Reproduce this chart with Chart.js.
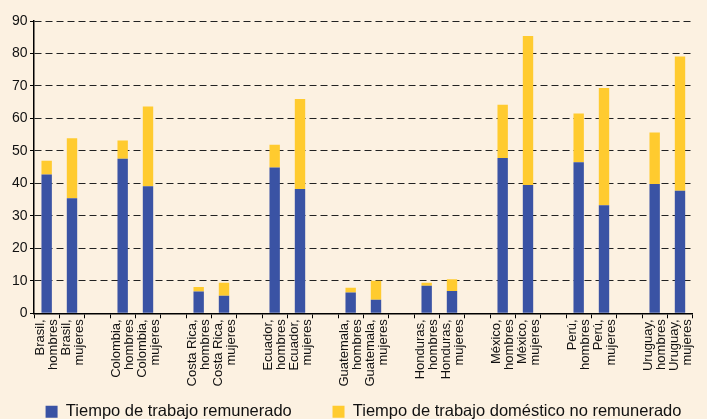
<!DOCTYPE html>
<html>
<head>
<meta charset="utf-8">
<script src="https://cdn.jsdelivr.net/npm/chart.js@4/dist/chart.umd.min.js"></script>
<style>
  html, body { margin: 0; padding: 0; background: #fcf1e1; }
  #wrap { width: 707px; height: 419px; }
</style>
</head>
<body>
<div id="wrap"><canvas id="chart" width="707" height="419"></canvas></div>
<script>
// categories (empty strings are the gaps between countries)
const labels = [
  ['Brasil,', 'hombres'], ['Brasil,', 'mujeres'], '',
  ['Colombia,', 'hombres'], ['Colombia,', 'mujeres'], '',
  ['Costa Rica,', 'hombres'], ['Costa Rica,', 'mujeres'], '',
  ['Ecuador,', 'hombres'], ['Ecuador,', 'mujeres'], '',
  ['Guatemala,', 'hombres'], ['Guatemala,', 'mujeres'], '',
  ['Honduras,', 'hombres'], ['Honduras,', 'mujeres'], '',
  ['México,', 'hombres'], ['México,', 'mujeres'], '',
  ['Perú,', 'hombres'], ['Perú,', 'mujeres'], '',
  ['Uruguay,', 'hombres'], ['Uruguay,', 'mujeres']
];

// paid work time
const remunerado = [
  42.7, 35.4, null,
  47.6, 39.1, null,
  6.7, 5.4, null,
  44.9, 38.3, null,
  6.4, 4.2, null,
  8.5, 6.9, null,
  47.8, 39.5, null,
  46.5, 33.3, null,
  39.8, 37.7
];

// unpaid domestic work time
const noRemunerado = [
  4.3, 18.5, null,
  5.6, 24.6, null,
  1.4, 4.0, null,
  7.0, 27.7, null,
  1.5, 5.8, null,
  0.9, 3.6, null,
  16.4, 45.9, null,
  15.0, 36.1, null,
  15.9, 41.4
];

const yTicks = [0, 10, 20, 30, 40, 50, 60, 70, 80, 90];

const seriesNames = [
  'Tiempo de trabajo remunerado',
  'Tiempo de trabajo doméstico no remunerado'
];

const font = 'Arial, "Liberation Sans", sans-serif';

new Chart(document.getElementById('chart'), {
  type: 'bar',
  data: {
    labels: labels,
    datasets: [
      {
        label: seriesNames[0] + '\u2003\u2002', // extra room between legend items
        data: remunerado,
        backgroundColor: '#3a53a4',
        barPercentage: 0.41,
        categoryPercentage: 1
      },
      {
        label: seriesNames[1],
        data: noRemunerado,
        backgroundColor: '#ffcb2f',
        barPercentage: 0.41,
        categoryPercentage: 1
      }
    ]
  },
  options: {
    responsive: false,
    animation: false,
    layout: { padding: { top: 21, right: 0, left: 20, bottom: -11 } },
    scales: {
      x: {
        stacked: true,
        offset: true,
        grid: {
          offset: true,
          drawOnChartArea: false,
          drawTicks: true,
          tickLength: 5,
          tickColor: '#000'
        },
        border: { color: '#000', width: 1.5 },
        ticks: {
          autoSkip: false,
          maxRotation: 90,
          minRotation: 90,
          padding: 1,
          labelOffset: -6,
          color: '#111',
          font: { family: font, size: 13, lineHeight: 1.0 }
        }
      },
      y: {
        stacked: true,
        min: 0,
        max: 90,
        afterBuildTicks: axis => { axis.ticks = yTicks.map(v => ({ value: v })); },
        afterFit: axis => { axis.width = 14; }, // labels hang into the left padding
        grid: {
          color: '#222',
          tickLength: 4,
          tickColor: '#000',
          tickBorderDash: []
        },
        border: { color: '#000', width: 1.5, dash: [7, 4] },
        ticks: {
          mirror: true, // mirrored labels are not clipped to the narrow axis box
          padding: -22,
          color: '#111',
          font: { family: font, size: 14 },
          callback: v => (v < 10 ? '\u2007' : '') + v
        }
      }
    },
    plugins: {
      legend: {
        position: 'bottom',
        labels: {
          boxWidth: 12,
          boxHeight: 12,
          padding: 16,
          color: '#111',
          font: { family: font, size: 16.5 }
        }
      },
      tooltip: { enabled: false }
    }
  }
});
</script>
</body>
</html>
